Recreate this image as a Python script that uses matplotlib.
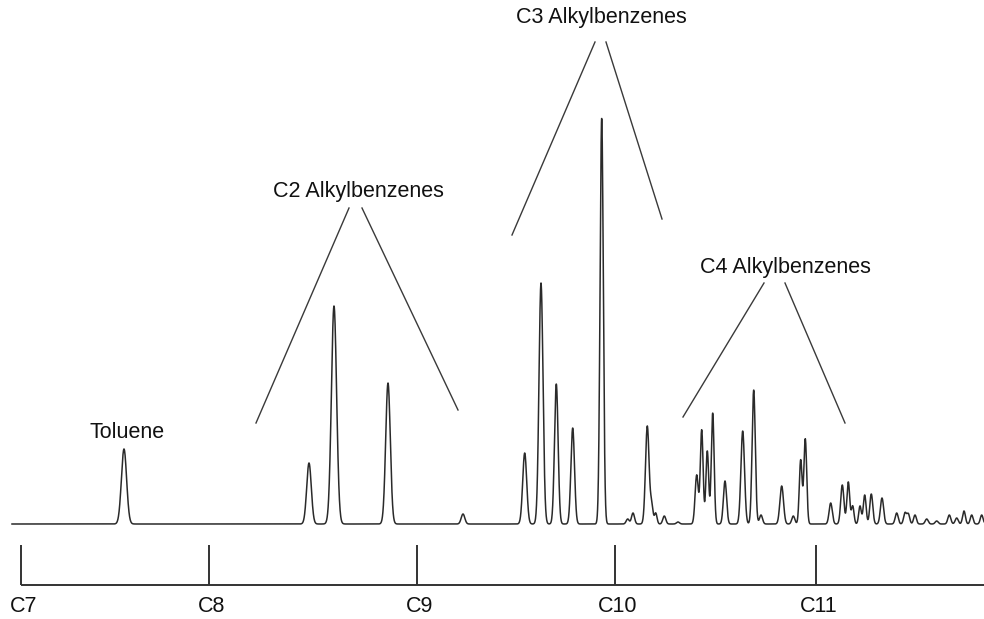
import numpy as np
import matplotlib
matplotlib.use("Agg")
import matplotlib.pyplot as plt

plt.rcParams['font.family'] = ['Liberation Sans', 'DejaVu Sans']

# Retention positions of carbon-number markers (arbitrary retention units)
marker_labels = ["C7", "C8", "C9", "C10", "C11"]
marker_pos = [21, 209, 417, 615, 816]

# Peaks: retention position, height (detector response), width (sigma)
peak_pos = [124, 309, 334, 388, 463,
            524.7, 541, 556.3, 572.7, 601.7, 627.7, 633, 647.3, 651.7, 655.7, 664.3, 678,
            696.7, 701.7, 707.3, 712.7, 725, 742.7, 753.7, 761, 781.7, 793.3, 800.7, 805.3,
            830.7, 842.3, 848.3, 852.7, 860, 864.7, 871.3, 882, 896.7, 905, 908.3, 915,
            926.7, 936.7, 949.3, 956.7, 964, 971.7, 981.7]
peak_height = [75, 61, 218, 141, 10,
               71, 241, 140, 96, 406, 5, 11, 98, 19, 11, 8, 2,
               49, 94, 73, 111, 43, 93, 134, 9, 38, 8, 64, 85,
               21, 39, 42, 18, 18, 29, 30, 26, 11, 11, 10, 9,
               5, 3, 9, 6, 13, 9, 9]
peak_sigma = [2.6, 2.3, 2.6, 2.3, 1.8,
              2.0, 2.0, 1.8, 1.8, 1.6, 1.5, 1.5, 1.8, 1.3, 1.3, 1.5, 1.5,
              1.6, 1.4, 1.4, 1.4, 1.6, 1.8, 1.6, 1.5, 1.8, 1.5, 1.4, 1.4,
              1.6, 1.6, 1.4, 1.3, 1.3, 1.4, 1.5, 1.6, 1.5, 1.4, 1.4, 1.4,
              1.5, 1.5, 1.5, 1.5, 1.4, 1.4, 1.4]

# Group annotations: label, label position, line endpoints (top -> bottom)
group_labels = ["Toluene", "C2 Alkylbenzenes", "C3 Alkylbenzenes", "C4 Alkylbenzenes"]
group_label_pos = [(127, 91), (358, 333), (601, 506), (785, 256)]
group_lines = [
    None,
    [((349, 316), (256, 101)), ((362, 316), (458, 114))],
    [((595, 482), (512, 289)), ((606, 482), (662, 305))],
    [((764, 241), (683, 107)), ((785, 241), (845, 101))],
]

x = np.linspace(12, 984, 6000)
y = np.zeros_like(x)
for p, h, s in zip(peak_pos, peak_height, peak_sigma):
    y += h * np.exp(-0.5 * ((x - p) / s) ** 2)

fig = plt.figure(figsize=(9.84, 6.19), dpi=100)
ax = fig.add_axes([0, 0, 1, 1])
ax.set_xlim(0, 984)
ax.set_ylim(-95, 524)
ax.axis('off')

ax.plot(x, y, color='#2a2a2a', lw=1.1)

# carbon-number scale
axis_y = -61
ax.plot([marker_pos[0], 984], [axis_y, axis_y], color='#333333', lw=1.4, solid_capstyle='butt')
for lab, p in zip(marker_labels, marker_pos):
    ax.plot([p, p], [axis_y, -21], color='#333333', lw=1.4, solid_capstyle='butt')
    ax.text(p + 3, -82, lab, ha='center', va='center', fontsize=15.5, color='#111111')

for lab, pos, lines in zip(group_labels, group_label_pos, group_lines):
    ax.text(pos[0], pos[1], lab, ha='center', va='center', fontsize=15.5, color='#111111')
    if lines:
        for (a, b) in lines:
            ax.plot([a[0], b[0]], [a[1], b[1]], color='#3a3a3a', lw=1.0)

fig.savefig("out.png", dpi=100)
